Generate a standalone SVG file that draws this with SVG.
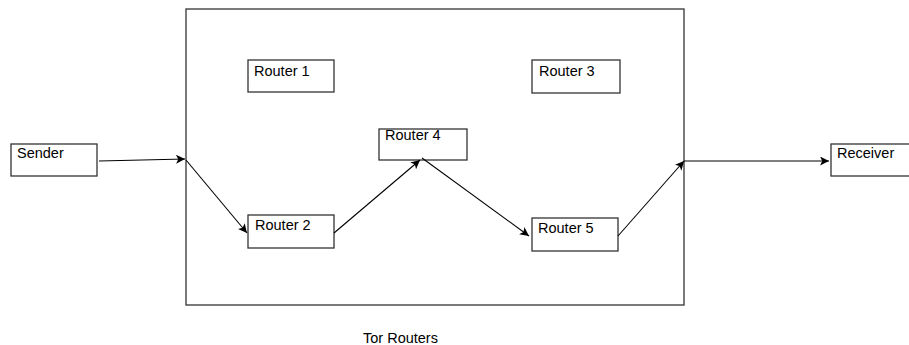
<svg xmlns="http://www.w3.org/2000/svg" width="909" height="345" viewBox="0 0 909 345">
<defs>
<style>
.box{fill:#fff;stroke:#333;stroke-width:1.3}
.lbl{font-family:"Liberation Sans",Arial,sans-serif;font-size:14.5px;fill:#000}
.edge{fill:none;stroke:#000;stroke-width:1.1;marker-end:url(#ah)}
</style>
<marker id="ah" viewBox="0 0 10 10" refX="10" refY="5" markerWidth="9" markerHeight="9" markerUnits="userSpaceOnUse" orient="auto">
<path d="M0,0 L10,5 L0,10 L2.5,5 z" fill="#000"/>
</marker>
</defs>
<rect width="909" height="345" fill="#fff"/>
<g id="tor-routers">
<rect class="box" x="186" y="9" width="498" height="296"/>
<text class="lbl" x="363" y="343">Tor Routers</text>
</g>
<g id="sender">
<rect class="box" x="11" y="144" width="86" height="32"/>
<text class="lbl" x="17" y="158">Sender</text>
</g>
<g id="router1">
<rect class="box" x="248" y="60" width="86" height="32"/>
<text class="lbl" x="254" y="76">Router 1</text>
</g>
<g id="router3">
<rect class="box" x="532" y="60" width="88" height="33"/>
<text class="lbl" x="539" y="76">Router 3</text>
</g>
<g id="router4">
<rect class="box" x="379" y="129" width="88" height="31"/>
<text class="lbl" x="385" y="140">Router 4</text>
</g>
<g id="router2">
<rect class="box" x="248" y="215" width="86" height="33"/>
<text class="lbl" x="255" y="230">Router 2</text>
</g>
<g id="router5">
<rect class="box" x="532" y="218" width="86" height="33"/>
<text class="lbl" x="538" y="233">Router 5</text>
</g>
<g id="receiver">
<rect class="box" x="831" y="144" width="90" height="32"/>
<text class="lbl" x="837" y="158">Receiver</text>
</g>
<g id="connectors">
<line class="edge" x1="99" y1="161" x2="185" y2="159"/>
<line class="edge" x1="186" y1="160" x2="247" y2="233"/>
<line class="edge" x1="334" y1="233" x2="420" y2="160"/>
<line class="edge" x1="422" y1="158" x2="529" y2="236"/>
<line class="edge" x1="618" y1="236" x2="684" y2="161"/>
<line class="edge" x1="684" y1="161" x2="829" y2="161"/>
</g>
</svg>
